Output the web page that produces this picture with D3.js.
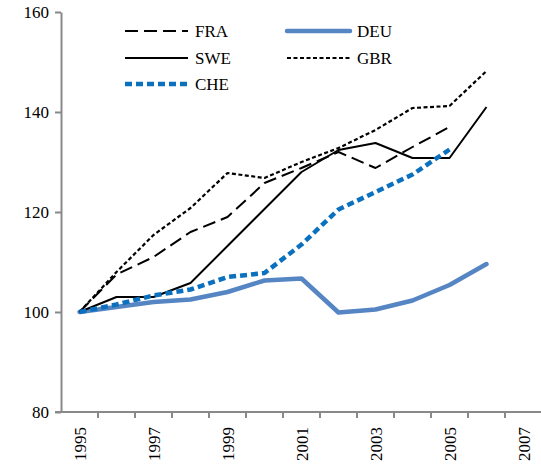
<!DOCTYPE html>
<html>
<head>
<meta charset="utf-8">
<script src="https://cdn.jsdelivr.net/npm/d3@7"></script>
<style>
body{margin:0;background:#fff;}
.axis path,.axis line{stroke:#898989;stroke-width:2;}
</style>
</head>
<body>
<svg></svg>
<script>
var years = [1995,1996,1997,1998,1999,2000,2001,2002,2003,2004,2005,2006,2007];
var yTicks = [80,100,120,140,160];

var fra = [100,107.5,111,116,119,125.8,128.8,132,128.8,133,137];
var deu = [100,101,102,102.5,104,106.3,106.7,99.9,100.5,102.3,105.4,109.6];
var swe = [100,103,103,105.8,113.2,120.6,128,132.4,133.8,130.8,130.8,141];
var gbr = [100,108,115.4,120.8,127.8,126.8,130,132.8,136.4,140.8,141.2,148.2];
var che = [100,101.5,103.3,104.5,107,107.8,113.5,120.5,124,127.5,132.5];

var width = 541,
    height = 468;
var FONT = "'Liberation Serif'";

var svg = d3.select("svg")
    .attr("width", width)
    .attr("height", height);

var x = d3.scaleBand()
    .domain(years)
    .range([61, 542]);

var y = d3.scaleLinear()
    .domain([80,160])
    .range([412, 12]);

// y axis
var yAxis = svg.append("g")
    .attr("class","axis")
    .attr("transform","translate(61,0)")
    .call(d3.axisLeft(y).tickValues(yTicks).tickSize(6).tickPadding(6).tickSizeOuter(0));
yAxis.selectAll("text")
    .style("font-family", FONT)
    .style("font-size", "17px")
    .attr("fill", "#000");

// x axis, ticks on category boundaries like Excel
var xg = svg.append("g")
    .attr("class","axis")
    .attr("transform","translate(0,412)");
xg.append("line")
    .attr("x1", 55).attr("x2", 542)
    .attr("y1", 0).attr("y2", 0);
xg.selectAll(".tk")
    .data(years)
    .enter().append("line")
    .attr("x1", function(d){ return x(d) + x.bandwidth(); })
    .attr("x2", function(d){ return x(d) + x.bandwidth(); })
    .attr("y1", 0).attr("y2", 6);
xg.selectAll(".lbl")
    .data(years.filter(function(d){ return (d - 1995) % 2 == 0; }))
    .enter().append("text")
    .attr("transform", function(d){ return "translate(" + (x(d) + x.bandwidth()/2 + 6) + ",15) rotate(-90)"; })
    .attr("text-anchor","end")
    .style("font-family", FONT)
    .style("font-size", "17px")
    .text(function(d){ return d; });

var series = [
    {name:"DEU", values:deu, color:"#5585C3", w:4.5, dash:null},
    {name:"FRA", values:fra, color:"#000", w:2, dash:"13,6"},
    {name:"SWE", values:swe, color:"#000", w:2, dash:null},
    {name:"GBR", values:gbr, color:"#000", w:2.2, dash:"4,2.5"},
    {name:"CHE", values:che, color:"#0B70BE", w:4.5, dash:"7,4"}
];

var line = d3.line()
    .x(function(d,i){ return x(years[i]) + x.bandwidth()/2; })
    .y(function(d){ return y(d); });

svg.selectAll(".series")
    .data(series)
    .enter().append("path")
    .attr("fill","none")
    .attr("stroke", function(d){ return d.color; })
    .attr("stroke-width", function(d){ return d.w; })
    .attr("stroke-dasharray", function(d){ return d.dash; })
    .attr("stroke-linecap", function(d){ return d.name == "DEU" ? "round" : "butt"; })
    .attr("stroke-linejoin","round")
    .attr("d", function(d){ return line(d.values); });

// legend
var legendItems = [
    {s:series[1], lx:125, ly:31},
    {s:series[0], lx:287, ly:31},
    {s:series[2], lx:125, ly:58},
    {s:series[3], lx:287, ly:58},
    {s:series[4], lx:125, ly:84}
];
var lg = svg.selectAll(".leg")
    .data(legendItems)
    .enter().append("g");
lg.append("line")
    .attr("x1", function(d){ return d.lx; })
    .attr("x2", function(d){ return d.lx + 63; })
    .attr("y1", function(d){ return d.ly; })
    .attr("y2", function(d){ return d.ly; })
    .attr("stroke", function(d){ return d.s.color; })
    .attr("stroke-width", function(d){ return d.s.w; })
    .attr("stroke-dasharray", function(d){ return d.s.dash; })
    .attr("stroke-linecap", function(d){ return d.s.name == "DEU" ? "round" : "butt"; });
lg.append("text")
    .attr("x", function(d){ return d.lx + 70; })
    .attr("y", function(d){ return d.ly + 6; })
    .style("font-family", FONT)
    .style("font-size", "17px")
    .text(function(d){ return d.s.name; });
</script>
</body>
</html>
